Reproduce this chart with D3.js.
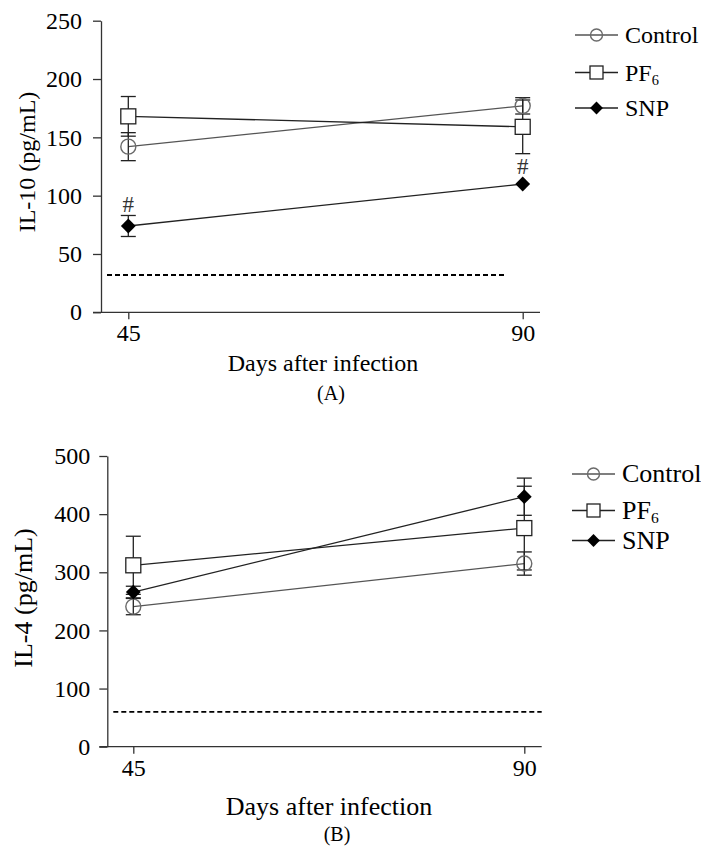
<!DOCTYPE html>
<html>
<head>
<meta charset="utf-8">
<script src="https://cdn.jsdelivr.net/npm/d3@7"></script>
<style>
  body { margin: 0; background: #fff; }
  svg { display: block; font-family: "Liberation Serif", "Times New Roman", serif; }
</style>
</head>
<body>
<svg id="chart" width="701" height="846"></svg>
<script>
// days of measurement
var days = [45, 90];
var seriesNames = ['Control', 'PF6', 'SNP'];

// IL-10 (panel A)
var il10Control = [142, 177];
var il10ControlErr = [12, 7];
var il10PF6 = [168, 159];
var il10PF6Err = [17, 23];
var il10SNP = [74, 110];
var il10SNPErr = [9, 0];
var il10Limit = 32;
var il10Ticks = [0, 50, 100, 150, 200, 250];
var il10Hash = [45, 90]; // SNP points marked with #

// IL-4 (panel B)
var il4Control = [241, 315];
var il4ControlErr = [14, 20];
var il4PF6 = [312, 376];
var il4PF6Err = [50, 72];
var il4SNP = [266, 430];
var il4SNPErr = [10, 32];
var il4Limit = 60;
var il4Ticks = [0, 100, 200, 300, 400, 500];

var svg = d3.select('#chart');

/*
 * draw one marker symbol
 */
function drawMarker(g, kind, x, y, size) {
  if (kind == 'Control') {
    g.append('circle').attr('cx', x).attr('cy', y).attr('r', size / 2)
      .attr('fill', 'none').attr('stroke', '#6a6a6a').attr('stroke-width', 1.4);
  } else if (kind == 'PF6') {
    g.append('rect').attr('x', x - size / 2).attr('y', y - size / 2)
      .attr('width', size).attr('height', size)
      .attr('fill', '#fff').attr('stroke', '#222').attr('stroke-width', 1.3);
  } else {
    g.append('path')
      .attr('d', d3.symbol().type(d3.symbolDiamond2).size(size * size * 0.62)())
      .attr('transform', 'translate(' + x + ',' + y + ')')
      .attr('fill', '#000');
  }
}

/*
 * draw one panel
 */
function drawPanel(p) {
  var g = svg.append('g');
  var x = d3.scaleLinear().domain([45, 90]).range(p.xRange);
  var y = d3.scaleLinear().domain([0, p.ticks[p.ticks.length - 1]]).range(p.yRange);

  // y axis
  var yAxis = g.append('g').attr('transform', 'translate(' + p.axisX + ',0)')
    .call(d3.axisLeft(y).tickValues(p.ticks).tickSize(8).tickSizeOuter(0).tickPadding(p.yPad));
  yAxis.selectAll('path, line').attr('stroke', '#333').attr('stroke-width', 1.3);
  yAxis.selectAll('text').attr('font-size', p.tickFont).attr('fill', '#000')
    .attr('font-family', '"Liberation Serif", serif');

  // x axis
  var xAxis = g.append('g').attr('transform', 'translate(0,' + y(0) + ')')
    .call(d3.axisBottom(x).tickValues(days).tickSize(7).tickPadding(5));
  xAxis.select('.domain').remove();
  xAxis.selectAll('line').attr('stroke', '#333').attr('stroke-width', 1.3);
  xAxis.selectAll('text').attr('font-size', p.tickFont).attr('fill', '#000')
    .attr('font-family', '"Liberation Serif", serif');
  g.append('line').attr('x1', p.axisX - 8).attr('x2', p.xEnd)
    .attr('y1', y(0)).attr('y2', y(0)).attr('stroke', '#333').attr('stroke-width', 1.3);

  // detection limit
  g.append('line').attr('x1', p.axisX + 6).attr('x2', p.dashEnd)
    .attr('y1', y(p.limit)).attr('y2', y(p.limit))
    .attr('stroke', '#000').attr('stroke-width', 1.8).attr('stroke-dasharray', '5,3');

  // series lines
  var line = d3.line().x(function (d, i) { return x(days[i]); }).y(function (d) { return y(d); });
  var colors = {Control: '#555', PF6: '#222', SNP: '#222'};
  p.series.forEach(function (s) {
    g.append('path').datum(s.values).attr('d', line)
      .attr('fill', 'none').attr('stroke', colors[s.name]).attr('stroke-width', 1.3);
  });

  // error bars
  p.series.forEach(function (s) {
    s.values.forEach(function (v, i) {
      var e = s.err[i];
      if (!e) return;
      var cx = x(days[i]);
      g.append('line').attr('x1', cx).attr('x2', cx).attr('y1', y(v - e)).attr('y2', y(v + e))
        .attr('stroke', '#222').attr('stroke-width', 1.3);
      [v - e, v + e].forEach(function (t) {
        g.append('line').attr('x1', cx - 7.5).attr('x2', cx + 7.5).attr('y1', y(t)).attr('y2', y(t))
          .attr('stroke', '#222').attr('stroke-width', 1.3);
      });
    });
  });

  // markers
  p.series.forEach(function (s) {
    s.values.forEach(function (v, i) {
      drawMarker(g, s.name, x(days[i]), y(v), 15);
    });
  });

  // significance marks above SNP
  if (p.hash) {
    var snp = p.series[2];
    p.hash.forEach(function (d) {
      var i = days.indexOf(d);
      var top = snp.values[i] + snp.err[i];
      g.append('text').attr('x', x(d)).attr('y', y(top) - (snp.err[i] ? 3 : 10))
        .attr('text-anchor', 'middle').attr('font-size', 23).attr('fill', '#333').text('#');
    });
  }

  // axis labels
  g.append('text').attr('transform', 'translate(' + p.yLabelX + ',' + p.yLabelY + ') rotate(-90)')
    .attr('text-anchor', 'middle').attr('dy', '0.35em').attr('font-size', p.labelFont)
    .text(p.yLabel);
  g.append('text').attr('x', p.xLabelX).attr('y', p.xLabelY).attr('text-anchor', 'middle')
    .attr('font-size', p.labelFont).text('Days after infection');
  g.append('text').attr('x', p.xLabelX + 8).attr('y', p.panelY).attr('text-anchor', 'middle')
    .attr('font-size', 20).text(p.panel);

  // legend
  var leg = g.append('g');
  p.series.forEach(function (s, i) {
    var ly = p.legendY[i];
    leg.append('line').attr('x1', p.legendX).attr('x2', p.legendX + 43).attr('y1', ly).attr('y2', ly)
      .attr('stroke', colors[s.name]).attr('stroke-width', 1.3);
    drawMarker(leg, s.name, p.legendX + 21.5, ly, s.name == 'Control' ? 12 : 13);
    var t = leg.append('text').attr('x', p.legendX + 50).attr('y', ly + 8)
      .attr('font-size', p.legendFont);
    if (s.name == 'PF6') {
      t.append('tspan').text('PF');
      t.append('tspan').attr('font-size', p.legendFont * 0.6).attr('dy', 4).text('6');
    } else {
      t.text(s.name);
    }
  });
}

drawPanel({
  xRange: [128.3, 522.7], yRange: [312.3, 20.7], axisX: 101, xEnd: 540, dashEnd: 505,
  ticks: il10Ticks, limit: il10Limit, hash: il10Hash, yPad: 11,
  series: [
    {name: 'Control', values: il10Control, err: il10ControlErr},
    {name: 'PF6', values: il10PF6, err: il10PF6Err},
    {name: 'SNP', values: il10SNP, err: il10SNPErr}
  ],
  tickFont: 24, labelFont: 24, legendFont: 24,
  yLabel: 'IL-10 (pg/mL)', yLabelX: 27, yLabelY: 162,
  xLabelX: 323, xLabelY: 371, panel: '(A)', panelY: 400,
  legendX: 575, legendY: [35, 72.5, 108]
});

drawPanel({
  xRange: [133.3, 524.3], yRange: [746.7, 456], axisX: 107.3, xEnd: 541.7, dashEnd: 541.7,
  ticks: il4Ticks, limit: il4Limit, hash: null, yPad: 9,
  series: [
    {name: 'Control', values: il4Control, err: il4ControlErr},
    {name: 'PF6', values: il4PF6, err: il4PF6Err},
    {name: 'SNP', values: il4SNP, err: il4SNPErr}
  ],
  tickFont: 24, labelFont: 26, legendFont: 26,
  yLabel: 'IL-4 (pg/mL)', yLabelX: 23, yLabelY: 598,
  xLabelX: 329, xLabelY: 815, panel: '(B)', panelY: 841,
  legendX: 572, legendY: [474, 510.5, 540.5]
});
</script>
</body>
</html>
